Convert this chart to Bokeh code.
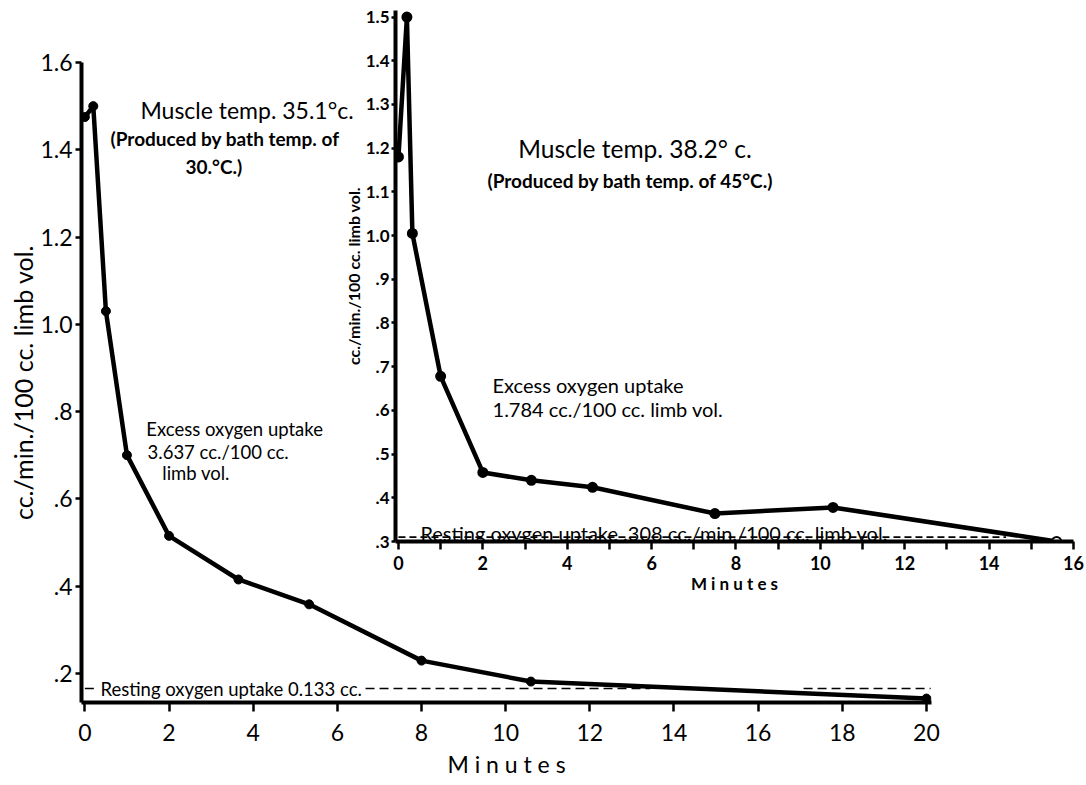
from bokeh.plotting import figure
from bokeh.models import Range1d, FixedTicker, CustomJSTickFormatter, Label, GridBox
from bokeh.embed import file_html
from bokeh.resources import INLINE

# ---------------- data ----------------
# Main chart: muscle temp 35.1 C
main_minutes = [0.0, 0.2, 0.5, 1.0, 2.0, 3.65, 5.33, 8.0, 10.6, 20.0]
main_uptake = [1.475, 1.50, 1.03, 0.70, 0.515, 0.415, 0.358, 0.229, 0.181, 0.142]
main_resting_level = 0.165
main_x_ticks = [0, 2, 4, 6, 8, 10, 12, 14, 16, 18, 20]
main_y_ticks = [0.2, 0.4, 0.6, 0.8, 1.0, 1.2, 1.4, 1.6]

# Inset chart: muscle temp 38.2 C
inset_minutes = [0.0, 0.2, 0.33, 1.0, 2.0, 3.15, 4.6, 7.5, 10.3, 15.6]
inset_uptake = [1.18, 1.50, 1.005, 0.678, 0.458, 0.44, 0.424, 0.364, 0.378, 0.30]
inset_resting_level = 0.31
inset_x_ticks = [0, 2, 4, 6, 8, 10, 12, 14, 16]
inset_x_minor = [1, 3, 5, 7, 9, 11, 13, 15]
inset_y_ticks = [0.3, 0.4, 0.5, 0.6, 0.7, 0.8, 0.9, 1.0, 1.1, 1.2, 1.3, 1.4, 1.5]

FONT = "Lato"
fmt_code = "return tick < 0.95 ? tick.toFixed(1).slice(1) : tick.toFixed(1);"


def style_axis(ax, font_size, tick_out, standoff, bold=False):
    ax.axis_line_width = 4
    ax.axis_line_color = "black"
    ax.major_tick_line_width = 2.5
    ax.major_tick_line_color = "black"
    ax.major_tick_out = tick_out
    ax.major_tick_in = 0
    ax.minor_tick_line_width = 2.5
    ax.minor_tick_line_color = "black"
    ax.minor_tick_out = tick_out
    ax.minor_tick_in = 0
    ax.major_label_text_font = FONT
    ax.major_label_text_font_size = font_size
    ax.major_label_text_font_style = "bold" if bold else "normal"
    ax.major_label_text_color = "black"
    ax.major_label_standoff = standoff


def style_label(ax, text, size, standoff, bold=False):
    ax.axis_label = text
    ax.axis_label_text_font = FONT
    ax.axis_label_text_font_size = size
    ax.axis_label_text_font_style = "bold" if bold else "normal"
    ax.axis_label_text_color = "black"
    ax.axis_label_standoff = standoff


def add_text(fig, x, y, text, size, style="normal", align="left", baseline="middle"):
    fig.add_layout(Label(x=x, y=y, text=text, text_font=FONT, text_font_size=size,
                         text_font_style=style, text_color="black",
                         text_align=align, text_baseline=baseline))


# ---------------- main figure ----------------
main = figure(width=1086, height=785,
              x_range=Range1d(-0.08, 20.12), y_range=Range1d(0.133, 1.6),
              output_backend="svg", toolbar_location=None,
              min_border_left=81, min_border_right=155,
              min_border_top=62, min_border_bottom=83)
main.frame_align = False
main.grid.visible = False
main.outline_line_color = None
main.background_fill_color = "white"
main.border_fill_color = "white"

xa = main.xaxis[0]
xa.ticker = FixedTicker(ticks=main_x_ticks, minor_ticks=[])
style_axis(xa, "23px", 9, 12)
style_label(xa, "M i n u t e s", "23px", 6)

ya = main.yaxis[0]
ya.ticker = FixedTicker(ticks=main_y_ticks, minor_ticks=[])
ya.formatter = CustomJSTickFormatter(code=fmt_code)
style_axis(ya, "23px", 6, 3)
style_label(ya, "cc./min./100 cc. limb vol.", "25px", -1)

# resting dashed line (broken where text / curve lie)
main.segment(x0=[0.0, 6.67, 17.08], y0=[main_resting_level] * 3,
             x1=[0.33, 13.44, 20.1], y1=[main_resting_level] * 3,
             line_color="black", line_width=1.6, line_dash="9 5")

main.line(main_minutes, main_uptake, line_color="black", line_width=4.5)
main.scatter(main_minutes, main_uptake, size=9, fill_color="black", line_color="black")

add_text(main, 1.32, 1.49, "Muscle temp. 35.1°c.", "23px")
add_text(main, 0.61, 1.426, "(Produced by bath temp. of", "19px", "bold")
add_text(main, 2.39, 1.361, "30.°C.)", "19px", "bold")
add_text(main, 1.46, 0.759, "Excess oxygen uptake", "18.5px")
add_text(main, 1.49, 0.708, "3.637 cc./100 cc.", "18.5px")
add_text(main, 1.84, 0.660, "limb vol.", "18.5px")
add_text(main, 0.37, 0.164, "Resting oxygen uptake 0.133 cc.", "18.5px")

# ---------------- inset figure ----------------
inset = figure(width=746, height=603,
               x_range=Range1d(-0.07, 16.0), y_range=Range1d(0.3, 1.515),
               output_backend="svg", toolbar_location=None,
               min_border_left=55, min_border_right=13,
               min_border_top=10, min_border_bottom=62)
inset.frame_align = False
inset.grid.visible = False
inset.outline_line_color = None
inset.background_fill_color = None
inset.border_fill_color = None

ixa = inset.xaxis[0]
ixa.ticker = FixedTicker(ticks=inset_x_ticks, minor_ticks=inset_x_minor)
style_axis(ixa, "18px", 8, 6, bold=True)
style_label(ixa, "M i n u t e s", "17px", 0, bold=True)

iya = inset.yaxis[0]
iya.ticker = FixedTicker(ticks=inset_y_ticks, minor_ticks=[])
iya.formatter = CustomJSTickFormatter(code=fmt_code)
style_axis(iya, "17px", 4, 2, bold=True)
iya.minor_tick_line_color = None
style_label(iya, "cc./min./100 cc. limb vol.", "16px", 0, bold=True)

inset.segment(x0=[0.0], y0=[inset_resting_level], x1=[14.4], y1=[inset_resting_level],
              line_color="black", line_width=1.6, line_dash="7 4")

inset.line(inset_minutes, inset_uptake, line_color="black", line_width=4.5)
fills = ["black"] * (len(inset_minutes) - 1) + ["white"]
inset.scatter(inset_minutes, inset_uptake, size=9, fill_color=fills, line_color="black", line_width=2)

add_text(inset, 2.84, 1.20, "Muscle temp. 38.2° c.", "24.5px")
add_text(inset, 2.11, 1.125, "(Produced by bath temp. of 45°C.)", "19px", "bold")
add_text(inset, 2.23, 0.657, "Excess oxygen uptake", "20px")
add_text(inset, 2.23, 0.604, "1.784 cc./100 cc. limb vol.", "20px")
add_text(inset, 0.52, 0.319, "Resting oxygen uptake .308 cc./min./100 cc. limb vol.", "20px",
         baseline="alphabetic")

# overlap the inset on the main chart via a CSS grid with shared cells
layout = GridBox(children=[(main, 0, 0, 2, 2), (inset, 0, 1, 1, 1)],
                 cols=["340px", "746px"], rows=["603px", "182px"])

with open("out.html", "w") as f:
    f.write(file_html(layout, INLINE))
